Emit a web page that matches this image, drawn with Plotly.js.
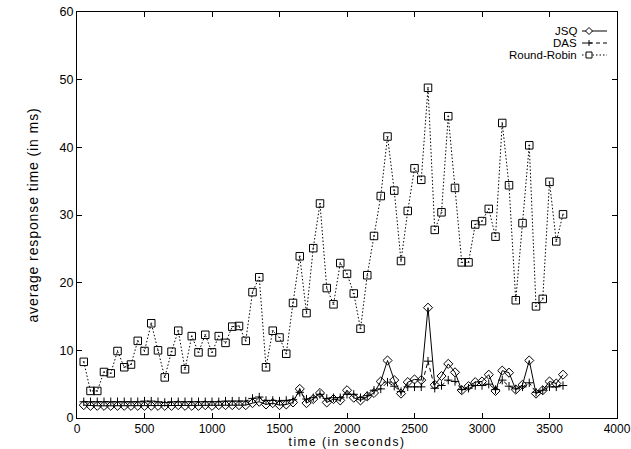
<!DOCTYPE html>
<html>
<head>
<meta charset="utf-8">
<script src="https://cdn.plot.ly/plotly-3.0.1.min.js"></script>
<style>html,body{margin:0;padding:0;background:#fff;}#chart{width:631px;height:449px;}</style>
</head>
<body>
<div id="chart"></div>
<script>
var time = [50,100,150,200,250,300,350,400,450,500,550,600,650,700,750,800,850,900,950,1000,
  1050,1100,1150,1200,1250,1300,1350,1400,1450,1500,1550,1600,1650,1700,1750,1800,1850,1900,1950,2000,
  2050,2100,2150,2200,2250,2300,2350,2400,2450,2500,2550,2600,2650,2700,2750,2800,2850,2900,2950,3000,
  3050,3100,3150,3200,3250,3300,3350,3400,3450,3500,3550,3600];

var jsq = [1.9,1.8,1.8,1.8,1.8,1.8,1.8,1.8,1.8,1.8,1.8,1.8,1.8,1.8,1.9,1.8,1.8,1.8,1.9,1.8,
  1.9,1.9,1.9,1.9,1.9,2.2,2.4,2.0,2.2,1.9,2.0,2.3,4.3,2.2,2.8,3.7,2.3,2.8,2.6,4.1,
  3.0,2.6,3.2,3.7,5.4,8.5,5.6,3.6,5.3,5.7,5.6,16.3,4.9,6.2,8.0,6.75,4.1,4.7,5.3,5.4,
  6.4,4.0,7.0,6.7,4.2,4.9,8.5,3.6,4.1,5.4,5.1,6.4];

var das = [2.4,2.4,2.4,2.4,2.4,2.4,2.4,2.4,2.4,2.5,2.5,2.4,2.3,2.4,2.4,2.4,2.4,2.4,2.4,2.4,
  2.4,2.5,2.5,2.5,2.5,2.9,3.1,2.6,2.6,2.5,2.6,2.7,3.8,2.8,3.0,3.5,2.9,3.0,3.0,3.5,
  3.5,3.0,3.3,4.1,4.3,5.3,4.7,3.9,4.6,4.6,4.6,8.4,4.4,4.8,5.6,5.4,4.2,4.4,4.8,4.8,
  5.0,4.2,5.6,4.7,4.3,4.6,5.2,3.8,4.1,4.6,4.6,4.8];

var roundRobin = [8.3,4.0,4.0,6.8,6.6,9.9,7.5,7.9,11.4,9.9,14.0,10.0,6.0,9.8,12.9,7.2,12.1,9.7,12.3,9.7,
  12.1,11.1,13.5,13.6,11.4,18.6,20.8,7.5,12.9,11.9,9.5,17.0,23.9,15.5,25.1,31.7,19.2,16.8,22.9,21.3,
  18.4,13.2,21.1,26.9,32.8,41.6,33.6,23.2,30.6,36.9,35.2,48.8,27.8,30.4,44.6,34.0,23.0,23.0,28.6,29.1,
  30.9,26.8,43.6,34.4,17.4,28.8,40.3,16.5,17.6,34.9,26.1,30.1];

var seriesNames = ['JSQ', 'DAS', 'Round-Robin'];
var xTitle = 'time (in seconds)';
var yTitle = 'average response time (in ms)';

var FONT = 'Liberation Sans, Arial, Helvetica, sans-serif';
var M = {l: 77, r: 14, t: 12, b: 31};
var W = 631, H = 449;
var PW = W - M.l - M.r, PH = H - M.t - M.b;
var dashes = ['solid', '4px,3px', '1.5px,2px'];

var traces = [
  {x: time, y: jsq, name: seriesNames[0], type: 'scatter', mode: 'lines+markers',
   line: {color: '#000', width: 1, dash: dashes[0]},
   marker: {symbol: 'diamond-open', size: 7, color: '#000', line: {width: 1, color: '#000'}}},
  {x: time, y: das, name: seriesNames[1], type: 'scatter', mode: 'lines+markers',
   line: {color: '#000', width: 1, dash: dashes[1]},
   marker: {symbol: 'cross-thin-open', size: 6, color: '#000', line: {width: 1, color: '#000'}}},
  {x: time, y: roundRobin, name: seriesNames[2], type: 'scatter', mode: 'lines+markers',
   line: {color: '#000', width: 1, dash: dashes[2]},
   marker: {symbol: 'square-open-dot', size: 7.5, color: '#000', line: {width: 1, color: '#000'}}}
];

// gnuplot-style key: text right-aligned, line sample to the right
function px2x(p){ return (p - M.l) / PW; }
function py2y(p){ return (H - M.b - p) / PH; }
var keyRows = [31, 43, 55];
var textRight = 578, s0 = 582, s1 = 607, mk = 589;
var annotations = [], shapes = [];
seriesNames.forEach(function(n, i){
  var yy = keyRows[i];
  annotations.push({xref: 'paper', yref: 'paper', x: px2x(textRight), y: py2y(yy),
    xanchor: 'right', yanchor: 'middle', showarrow: false, text: n, borderpad: 0,
    font: {family: FONT, size: 11.5, color: '#000'}});
  shapes.push({type: 'line', xref: 'paper', yref: 'paper', x0: px2x(s0), x1: px2x(s1),
    y0: py2y(yy), y1: py2y(yy), line: {color: '#000', width: 1, dash: dashes[i]}});
  var h = 3.5;
  if (i === 0) {
    shapes.push({type: 'path', xref: 'paper', yref: 'paper',
      path: 'M' + px2x(mk - h) + ',' + py2y(yy) + ' L' + px2x(mk) + ',' + py2y(yy - h) +
            ' L' + px2x(mk + h) + ',' + py2y(yy) + ' L' + px2x(mk) + ',' + py2y(yy + h) + ' Z',
      fillcolor: '#fff', line: {color: '#000', width: 1}});
  } else if (i === 1) {
    shapes.push({type: 'line', xref: 'paper', yref: 'paper', x0: px2x(mk - 3), x1: px2x(mk + 3),
      y0: py2y(yy), y1: py2y(yy), line: {color: '#000', width: 1}});
    shapes.push({type: 'line', xref: 'paper', yref: 'paper', x0: px2x(mk), x1: px2x(mk),
      y0: py2y(yy - 3), y1: py2y(yy + 3), line: {color: '#000', width: 1}});
  } else {
    shapes.push({type: 'rect', xref: 'paper', yref: 'paper', x0: px2x(mk - 3), x1: px2x(mk + 3),
      y0: py2y(yy - 3), y1: py2y(yy + 3), fillcolor: '#fff', line: {color: '#000', width: 1}});
  }
});

var layout = {
  width: W, height: H,
  margin: M,
  paper_bgcolor: '#fff', plot_bgcolor: '#fff',
  showlegend: false,
  font: {family: FONT, size: 12, color: '#000'},
  xaxis: {range: [0, 4000], tickmode: 'linear', tick0: 0, dtick: 500,
    showgrid: false, zeroline: false, showline: true, linecolor: '#000', linewidth: 1,
    mirror: 'ticks', ticks: 'inside', ticklen: 5, tickcolor: '#000',
    tickfont: {family: FONT, size: 12, color: '#000'},
    title: {text: '<span style="letter-spacing:1.5px">' + xTitle + '</span>',
      font: {family: FONT, size: 12, color: '#000'}, standoff: 0}},
  yaxis: {range: [0, 60], tickmode: 'linear', tick0: 0, dtick: 10,
    showgrid: false, zeroline: false, showline: true, linecolor: '#000', linewidth: 1,
    mirror: 'ticks', ticks: 'inside', ticklen: 5, tickcolor: '#000',
    tickfont: {family: FONT, size: 12.5, color: '#000'},
    title: {text: '<span style="letter-spacing:0.9px">' + yTitle + '</span>',
      font: {family: FONT, size: 14, color: '#000'}, standoff: 17}},
  annotations: annotations,
  shapes: shapes
};

Plotly.newPlot('chart', traces, layout, {staticPlot: true, displayModeBar: false});
</script>
</body>
</html>
